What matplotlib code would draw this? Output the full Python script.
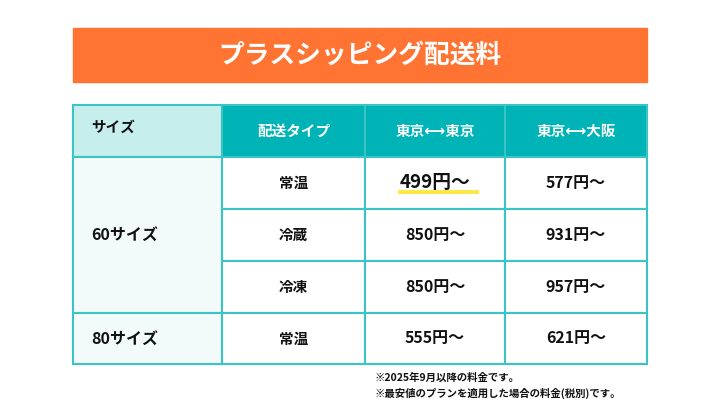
import matplotlib
matplotlib.use("Agg")
import matplotlib.pyplot as plt
from matplotlib.patches import Rectangle

plt.rcParams["font.family"] = ["Noto Sans CJK JP", "DejaVu Sans"]

title = "プラスシッピング配送料"
headers = ["サイズ", "配送タイプ", "東京⟷東京", "東京⟷大阪"]
sizes = ["60サイズ", "80サイズ"]
types = ["常温", "冷蔵", "冷凍", "常温"]
tokyo_tokyo = ["499円〜", "850円〜", "850円〜", "555円〜"]
tokyo_osaka = ["577円〜", "931円〜", "957円〜", "621円〜"]
notes = ["※2025年9月以降の料金です。", "※最安値のプランを適用した場合の料金(税別)です。"]

fig = plt.figure(figsize=(7.2, 4.05), dpi=100)
ax = fig.add_axes([0, 0, 1, 1])
ax.set_xlim(0, 720); ax.set_ylim(405, 0); ax.axis("off")

orange = "#FF7433"; teal = "#00B3B6"; light = "#C6EEEC"; pale = "#F3FBFA"; border = "#3CC3C3"
ax.add_patch(Rectangle((73, 28), 574, 54, color=orange))
ax.text(360, 55, title, color="white", fontsize=18.5, fontweight="bold", ha="center", va="center")

xs = [73, 222, 365, 505, 647]
ys = [105, 157, 209, 261, 313, 364]
for i in range(4):
    fc = light if i == 0 else teal
    ax.add_patch(Rectangle((xs[i], ys[0]), xs[i+1]-xs[i], ys[1]-ys[0], fc=fc, ec=border, lw=1.5))
    tc = "#111111" if i == 0 else "white"
    if i == 0:
        ax.text(xs[0]+18, (ys[0]+ys[1])/2 - 4, headers[i], color=tc, fontsize=10.5, fontweight="bold", ha="left", va="center")
    else:
        ax.text((xs[i]+xs[i+1])/2, (ys[0]+ys[1])/2, headers[i], color=tc, fontsize=10.5, fontweight="bold", ha="center", va="center")
ax.add_patch(Rectangle((xs[0], ys[1]), xs[1]-xs[0], ys[4]-ys[1], fc=pale, ec=border, lw=1.5))
ax.add_patch(Rectangle((xs[0], ys[4]), xs[1]-xs[0], ys[5]-ys[4], fc=pale, ec=border, lw=1.5))
ax.text(xs[0]+18, (ys[1]+ys[4])/2, sizes[0], fontsize=11.5, fontweight="bold", ha="left", va="center", color="#111111")
ax.text(xs[0]+18, (ys[4]+ys[5])/2, sizes[1], fontsize=11.5, fontweight="bold", ha="left", va="center", color="#111111")
cols = [types, tokyo_tokyo, tokyo_osaka]
for r in range(4):
    y0, y1 = ys[r+1], ys[r+2]
    for c in range(3):
        ax.add_patch(Rectangle((xs[c+1], y0), xs[c+2]-xs[c+1], y1-y0, fc="white", ec=border, lw=1.5))
        fs = 10.5 if c == 0 else 11.5
        if r == 0 and c == 1:
            fs = 13.5
            ax.plot([398, 479], [(y0+y1)/2+9]*2, color="#FCE84A", lw=3, solid_capstyle="butt", zorder=2)
        ax.text((xs[c+1]+xs[c+2])/2, (y0+y1)/2, cols[c][r], fontsize=fs, fontweight="bold",
                ha="center", va="center", color="#111111", zorder=3)
ax.text(375, 378, notes[0], fontsize=7.5, fontweight="bold", ha="left", va="center", color="#111111")
ax.text(375, 393, notes[1], fontsize=7.5, fontweight="bold", ha="left", va="center", color="#111111")
fig.savefig("out.png", dpi=100)
